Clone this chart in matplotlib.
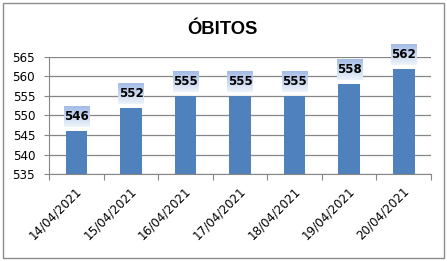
import numpy as np
import matplotlib
matplotlib.use("Agg")
import matplotlib.pyplot as plt
from matplotlib.patches import Rectangle

DATES = ["14/04/2021", "15/04/2021", "16/04/2021", "17/04/2021",
         "18/04/2021", "19/04/2021", "20/04/2021"]
OBITOS = [546, 552, 555, 555, 555, 558, 562]
YTICKS = [535, 540, 545, 550, 555, 560, 565]

BAR = "#4f81bd"
GRID = "#868686"

fig = plt.figure(figsize=(4.47, 2.61), dpi=100)
fig.patches.append(Rectangle((0.007, 0.012), 0.986, 0.976, transform=fig.transFigure,
                             fill=False, ec="#8c8c8c", lw=1.0))
ax = fig.add_axes([0.11, 0.333, 0.854, 0.449])

x = np.arange(len(DATES))
ax.bar(x, OBITOS, width=0.4, color=BAR, zorder=2, bottom=0)
ax.set_yticks(YTICKS)
ax.set_yticklabels([str(v) for v in YTICKS], fontsize=8.6)
ax.yaxis.grid(True, color=GRID, lw=0.9, zorder=0)
ax.set_axisbelow(True)

# category-boundary ticks on x
ax.set_xticks(np.arange(-0.5, len(DATES)))
ax.set_xticklabels([])
ax.tick_params(axis="x", length=4, color=GRID, direction="out")
ax.tick_params(axis="y", length=3.6, color=GRID, direction="out", pad=6.5)
for i, d in enumerate(DATES):
    ax.text(i - 0.02, 532.4, d, rotation=45, ha="right", va="top", fontsize=8.6,
            rotation_mode="anchor")

for s in ("top", "right"):
    ax.spines[s].set_visible(False)
for s in ("left", "bottom"):
    ax.spines[s].set_color(GRID)

# value labels with gradient box (blue on top, white at bottom)
grad = np.linspace(0, 1, 64).reshape(-1, 1)
cmap = matplotlib.colors.LinearSegmentedColormap.from_list("g", ["#eef3fa", "#a3bce6"])
for i, v in enumerate(OBITOS):
    ax.imshow(grad, extent=(i - 0.23, i + 0.23, v + 1.0, v + 6.2), origin="lower",
              aspect="auto", cmap=cmap, zorder=3, clip_on=False, interpolation="bilinear")
    ax.text(i, v + 3.7, str(v), ha="center", va="center", fontsize=8.6,
            fontweight="bold", zorder=4, clip_on=False)
ax.set_xlim(-0.5, len(DATES) - 0.5)
ax.set_ylim(535, 565)

fig.text(0.498, 0.888, "ÓBITOS", ha="center", va="center", fontsize=13.2,
         fontweight="bold", family="Liberation Sans")

fig.savefig("out.png", dpi=100)
